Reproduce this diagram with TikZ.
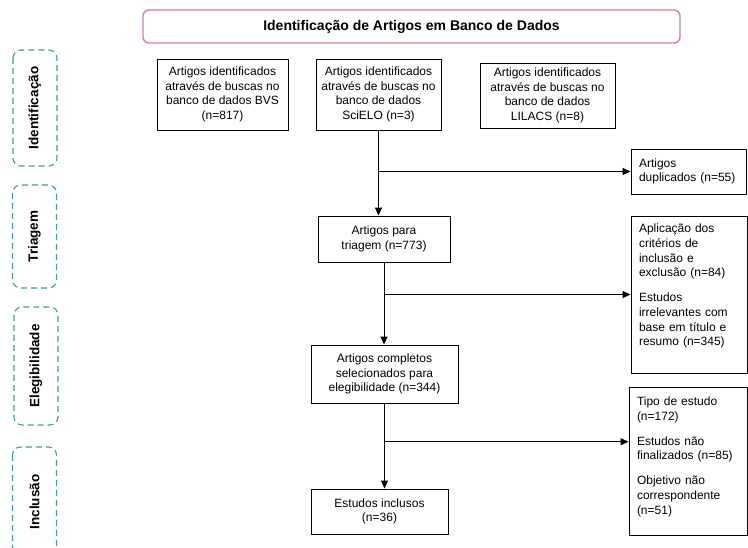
\documentclass[tikz,border=0pt]{standalone}
\usepackage{fontspec}
\setmainfont{Liberation Sans}
\usetikzlibrary{positioning,calc,arrows.meta}
\definecolor{rosa}{HTML}{D97BB4}
\definecolor{verdeagua}{HTML}{3A9E9A}

\begin{document}
\begin{tikzpicture}
	[   x=1pt,y=-1pt,
	    bnode/.style={draw=black,line width=0.9pt,align=center,inner sep=2pt,font=\fontsize{12}{14.7}\selectfont},
	    rnode/.style={draw=black,line width=0.9pt,align=left,text width=#1,inner xsep=8pt,inner ysep=3pt,font=\fontsize{12}{14.7}\selectfont},
	    fase/.style={draw=verdeagua,dash pattern=on 6pt off 4pt,line width=1.1pt,rounded corners=8pt,rotate=90,minimum height=44pt,font=\bfseries\fontsize{13.5}{16}\selectfont},
	]
	\tikzset{normal arrow/.style={draw,line width=1pt,-{Triangle[length=8pt,width=7pt]}}}
	\useasboundingbox (0,0) rectangle (748,548);
	
	% titulo e fases
	\node[draw=rosa,line width=1.4pt,rounded corners=6pt,minimum width=537pt,minimum height=33pt,font=\bfseries\fontsize{14}{16}\selectfont] (titulo) at (411.5,26.5) {Identificação de Artigos em Banco de Dados};
	\node[fase,minimum width=116pt] (f-ident) at (35,108) {Identificação};
	\node[fase,minimum width=103pt] (f-triag) at (34.5,236.5) {Triagem};
	\node[fase,minimum width=118pt] (f-eleg) at (36,366) {Elegibilidade};
	\node[fase,minimum width=110pt] (f-incl) at (34.5,502) {Inclusão};
	
	% bases de dados
	\node[bnode,minimum width=131pt,minimum height=71pt] (bvs) at (222.5,94.5) {Artigos identificados\\através de buscas no\\banco de dados BVS\\(n=817)};
	\node[bnode,minimum width=125pt,minimum height=71pt] (scielo) at (378.5,94.5) {Artigos identificados\\através de buscas no\\banco de dados\\SciELO (n=3)};
	\node[bnode,minimum width=135pt,minimum height=65pt] (lilacs) at (547.5,95.5) {Artigos identificados\\através de buscas no\\banco de dados\\LILACS (n=8)};
	
	% fluxo principal
	\node[bnode,minimum width=132pt,minimum height=46pt] (triagem) at (384,239) {Artigos para\\triagem (n=773)};
	\node[bnode,minimum width=147pt,minimum height=58pt] (eleg) at (384.5,374) {Artigos completos\\selecionados para\\elegibilidade (n=344)};
	\node[bnode,minimum width=137pt,minimum height=45pt] (incl) at (379.5,511.5) {Estudos inclusos\\(n=36)};
	
	% exclusoes
	\node[rnode=99pt,minimum height=45pt] (dup) at (688.5,171.5) {Artigos\\duplicados (n=55)};
	\node[rnode=100pt,minimum height=157pt,text depth=132pt] (apl) at (689,294.5) {Aplicação dos\\critérios de\\inclusão e\\exclusão (n=84)\\[10pt]Estudos\\irrelevantes com\\base em título e\\resumo (n=345)};
	\node[rnode=102pt,minimum height=148pt,text depth=119pt] (tipo) at (688,461) {Tipo de estudo\\(n=172)\\[10pt]Estudos não\\finalizados (n=85)\\[10pt]Objetivo não\\correspondente\\(n=51)};
	
	% conectores
	\path[normal arrow] (scielo.south) -- (scielo.south |- triagem.north);
	\path[normal arrow] (scielo.south |- dup.west) -- (dup.west);
	\path[normal arrow] (triagem.south) -- (triagem.south |- eleg.north);
	\path[normal arrow] (triagem.south |- apl.west) -- (apl.west);
	\coordinate (ramo) at ($(eleg.south)!0.45!(eleg.south |- incl.north)$);
	\path[normal arrow] (eleg.south) -- (eleg.south |- incl.north);
	\path[normal arrow] (ramo) -- (ramo -| tipo.west);
\end{tikzpicture}
\end{document}
